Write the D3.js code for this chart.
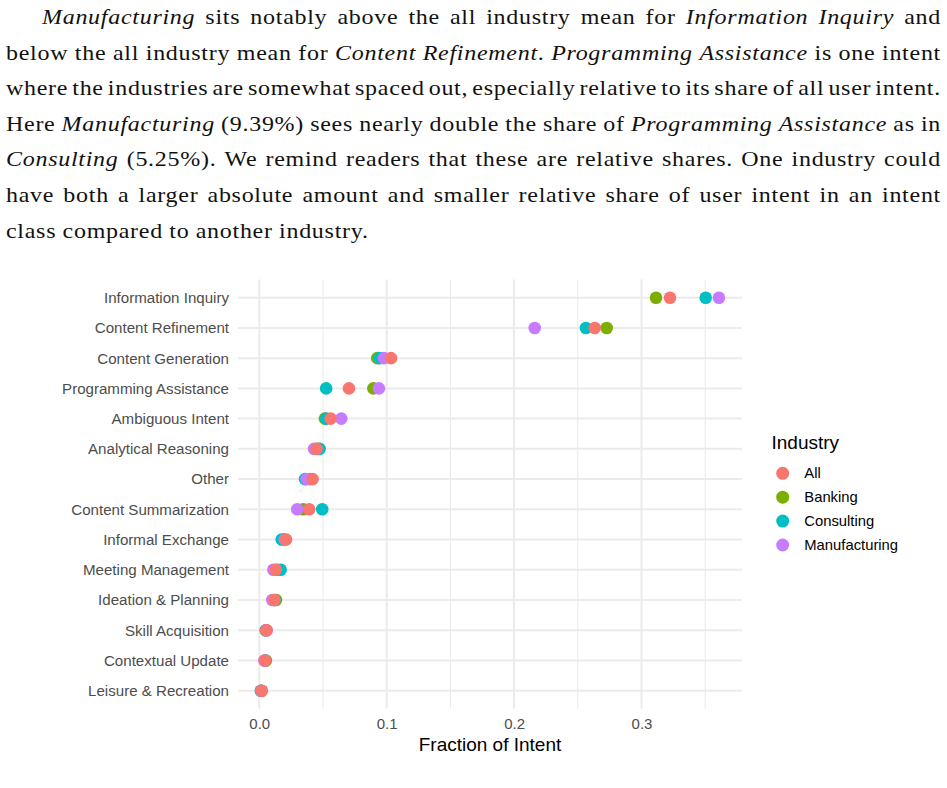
<!DOCTYPE html>
<html>
<head>
<meta charset="utf-8">
<script src="https://cdn.jsdelivr.net/npm/d3@7"></script>
<style>
  body { margin: 0; background: #fff; }
  svg { display: block; }
</style>
</head>
<body>
<div id="chart-area"></div>
<script>
// Data
var intents = ["Information Inquiry", "Content Refinement", "Content Generation",
    "Programming Assistance", "Ambiguous Intent", "Analytical Reasoning", "Other",
    "Content Summarization", "Informal Exchange", "Meeting Management",
    "Ideation & Planning", "Skill Acquisition", "Contextual Update", "Leisure & Recreation"];

var industries = ["All", "Banking", "Consulting", "Manufacturing"];
var industryColors = ["#F8766D", "#7CAE00", "#00BFC4", "#C77CFF"];

var allShare =           [0.3224, 0.2633, 0.1034, 0.0704, 0.0560, 0.0450, 0.0419, 0.0392, 0.0210, 0.0130, 0.0118, 0.0055, 0.0045, 0.0019];
var bankingShare =       [0.3114, 0.2727, 0.0926, 0.0895, 0.0515, 0.0460, 0.0400, 0.0345, 0.0190, 0.0140, 0.0131, 0.0055, 0.0052, 0.0018];
var consultingShare =    [0.3504, 0.2564, 0.0945, 0.0525, 0.0525, 0.0474, 0.0359, 0.0494, 0.0176, 0.0168, 0.0120, 0.0050, 0.0045, 0.0012];
var manufacturingShare = [0.3608, 0.2162, 0.0979, 0.0939, 0.0644, 0.0430, 0.0372, 0.0298, 0.0200, 0.0110, 0.0102, 0.0058, 0.0040, 0.0017];

var xTicks = [0, 0.1, 0.2, 0.3];
var xMinorTicks = [0.05, 0.15, 0.25, 0.35];

// Paragraph above the figure (*...* = italic)
var paraLines = [
    "*Manufacturing* sits notably above the all industry mean for *Information* *Inquiry* and",
    "below the all industry mean for *Content* *Refinement*. *Programming* *Assistance* is one intent",
    "where the industries are somewhat spaced out, especially relative to its share of all user intent.",
    "Here *Manufacturing* (9.39%) sees nearly double the share of *Programming* *Assistance* as in",
    "*Consulting* (5.25%). We remind readers that these are relative shares. One industry could",
    "have both a larger absolute amount and smaller relative share of user intent in an intent",
    "class compared to another industry."
];

var W = 947, H = 788;

var svg = d3.select("#chart-area")
    .append("svg")
        .attr("width", W)
        .attr("height", H);

// ---- Paragraph text, justified by hand
// serif text stretched a little so it is as wide as the original's Computer Modern
var sx = 1.2;
var para = svg.append("g")
    .attr("transform", "scale(" + sx + ",1)")
    .attr("font-family", "'Liberation Serif', 'Times New Roman', serif")
    .attr("font-size", "20px")
    .attr("letter-spacing", "0.6px")
    .attr("fill", "#111");

paraLines.forEach(function(line, i){
    var y = 24 + i * 35.6;
    var left = ((i == 0) ? 42 : 6) / sx;
    var right = 941 / sx;
    var words = line.split(" ");
    var nodes = words.map(function(w){
        var t = para.append("text").attr("y", y);
        w.split(/(\*[^*]+\*)/).forEach(function(part){
            if (!part) return;
            var it = part[0] == "*";
            t.append("tspan")
                .attr("font-style", it ? "italic" : "normal")
                .text(it ? part.slice(1, -1) : part);
        });
        return t;
    });
    var widths = nodes.map(function(t){ return t.node().getComputedTextLength(); });
    var total = d3.sum(widths);
    var last = (i == paraLines.length - 1);
    var gap = last ? 5.3 : (right - left - total) / (words.length - 1);
    var x = left;
    nodes.forEach(function(t, j){
        t.attr("x", x);
        x += widths[j] + gap;
    });
});

// ---- Chart
var panel = { left: 238, right: 742, top: 279.6, bottom: 708.8 };

var x = d3.scaleLinear()
    .domain([-0.0167, 0.3789])
    .range([panel.left, panel.right]);

var y = d3.scalePoint()
    .domain(intents)
    .range([297.7, 690.7]);

var color = d3.scaleOrdinal()
    .domain(industries)
    .range(industryColors);

var g = svg.append("g");

// Grid
g.selectAll(".minor-x").data(xMinorTicks).enter()
    .append("line")
        .attr("x1", function(d){ return x(d); })
        .attr("x2", function(d){ return x(d); })
        .attr("y1", panel.top)
        .attr("y2", panel.bottom)
        .attr("stroke", "#EBEBEB")
        .attr("stroke-width", 1.1);

g.selectAll(".major-x").data(xTicks).enter()
    .append("line")
        .attr("x1", function(d){ return x(d); })
        .attr("x2", function(d){ return x(d); })
        .attr("y1", panel.top)
        .attr("y2", panel.bottom)
        .attr("stroke", "#EBEBEB")
        .attr("stroke-width", 2);

g.selectAll(".major-y").data(intents).enter()
    .append("line")
        .attr("x1", panel.left)
        .attr("x2", panel.right)
        .attr("y1", function(d){ return y(d); })
        .attr("y2", function(d){ return y(d); })
        .attr("stroke", "#EBEBEB")
        .attr("stroke-width", 2);

// X Axis
var xAxisCall = d3.axisBottom(x)
    .tickValues(xTicks)
    .tickSize(0)
    .tickPadding(10)
    .tickFormat(d3.format(".1f"));
var xAxis = g.append("g")
    .attr("transform", "translate(0," + panel.bottom + ")")
    .call(xAxisCall);
xAxis.select(".domain").remove();
xAxis.selectAll("text")
    .attr("font-family", "'Liberation Sans', Arial, sans-serif")
    .attr("font-size", "15px")
    .attr("fill", "#4D4D4D");

// Y Axis
var yAxisCall = d3.axisLeft(y)
    .tickSize(0)
    .tickPadding(9);
var yAxis = g.append("g")
    .attr("transform", "translate(" + panel.left + ",0)")
    .call(yAxisCall);
yAxis.select(".domain").remove();
yAxis.selectAll("text")
    .attr("font-family", "'Liberation Sans', Arial, sans-serif")
    .attr("font-size", "15.1px")
    .attr("fill", "#4D4D4D");

// X Label
g.append("text")
    .attr("x", (panel.left + panel.right) / 2)
    .attr("y", 750.5)
    .attr("text-anchor", "middle")
    .attr("font-family", "'Liberation Sans', Arial, sans-serif")
    .attr("font-size", "19px")
    .attr("fill", "#000")
    .text("Fraction of Intent");

// Points (drawn Banking, Consulting, Manufacturing, then All on top)
var series = {
    "All": allShare,
    "Banking": bankingShare,
    "Consulting": consultingShare,
    "Manufacturing": manufacturingShare
};
var drawOrder = ["Banking", "Consulting", "Manufacturing", "All"];
var points = [];
drawOrder.forEach(function(ind){
    series[ind].forEach(function(v, i){
        points.push({ industry: ind, intent: intents[i], value: v });
    });
});

g.selectAll("circle.pt").data(points).enter()
    .append("circle")
        .attr("class", "pt")
        .attr("cx", function(d){ return x(d.value); })
        .attr("cy", function(d){ return y(d.intent); })
        .attr("r", 6.3)
        .attr("fill", function(d){ return color(d.industry); });

// Legend
var legend = g.append("g")
    .attr("transform", "translate(771.5, 0)");

legend.append("text")
    .attr("x", 0)
    .attr("y", 448.5)
    .attr("font-family", "'Liberation Sans', Arial, sans-serif")
    .attr("font-size", "19px")
    .attr("fill", "#000")
    .text("Industry");

industries.forEach(function(ind, i){
    var row = legend.append("g")
        .attr("transform", "translate(0," + (473.3 + i * 23.9) + ")");
    row.append("circle")
        .attr("cx", 11.2)
        .attr("cy", 0)
        .attr("r", 6.5)
        .attr("fill", color(ind));
    row.append("text")
        .attr("x", 32.8)
        .attr("y", 0)
        .attr("dy", "0.35em")
        .attr("font-family", "'Liberation Sans', Arial, sans-serif")
        .attr("font-size", "14.8px")
        .attr("fill", "#000")
        .text(ind);
});
</script>
</body>
</html>
